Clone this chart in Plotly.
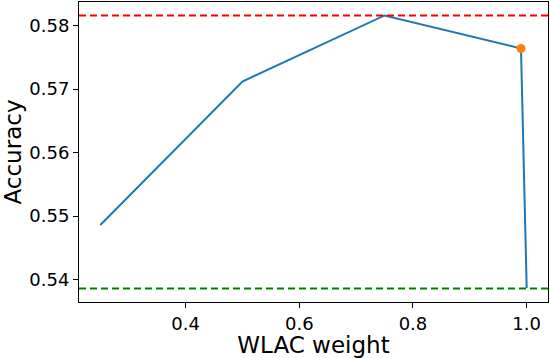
import plotly.graph_objects as go

# WLAC weight vs accuracy
weights = [0.25, 0.5, 0.75, 0.99, 1.0]
accuracy = [0.5486, 0.5712, 0.5816, 0.5764, 0.5387]
best_weight = [0.99]
best_acc = [0.5764]
upper_ref = 0.5816
lower_ref = 0.5386

fig = go.Figure()
fig.add_trace(go.Scatter(x=weights, y=accuracy, mode="lines",
                         line=dict(color="#1f77b4", width=2), showlegend=False))
fig.add_trace(go.Scatter(x=best_weight, y=best_acc, mode="markers",
                         marker=dict(color="#ff7f0e", size=9), showlegend=False))

fig.add_shape(type="line", xref="x domain", yref="y", x0=0, x1=1, y0=upper_ref, y1=upper_ref,
              line=dict(color="#ff0000", width=2, dash="7px,4px"))
fig.add_shape(type="line", xref="x domain", yref="y", x0=0, x1=1, y0=lower_ref, y1=lower_ref,
              line=dict(color="#008000", width=2, dash="7px,4px"))

axis_style = dict(showline=True, linecolor="black", linewidth=1, mirror=True,
                  ticks="outside", ticklen=5, tickcolor="black", showgrid=False,
                  zeroline=False, automargin=False, tickfont=dict(size=18, color="black"))

fig.update_xaxes(range=[0.2125, 1.0375], tickvals=[0.4, 0.6, 0.8, 1.0],
                 ticktext=["0.4", "0.6", "0.8", "1.0"],
                 title=dict(text="WLAC weight", font=dict(size=23, color="black"), standoff=4),
                 **axis_style)
fig.update_yaxes(range=[0.53648, 0.58372], tickvals=[0.54, 0.55, 0.56, 0.57, 0.58],
                 ticktext=["0.54", "0.55", "0.56", "0.57", "0.58"],
                 title=dict(text="Accuracy", font=dict(size=23, color="black"), standoff=4),
                 **axis_style)

fig.update_layout(width=550, height=358, margin=dict(l=79, r=2, t=2, b=56),
                  plot_bgcolor="white", paper_bgcolor="white",
                  font=dict(family="DejaVu Sans", color="black"))

# the page's default body margin would shift the figure by 8px
fig.write_html("out.html", config={"displayModeBar": False},
               post_script="document.body.style.margin='0';")
